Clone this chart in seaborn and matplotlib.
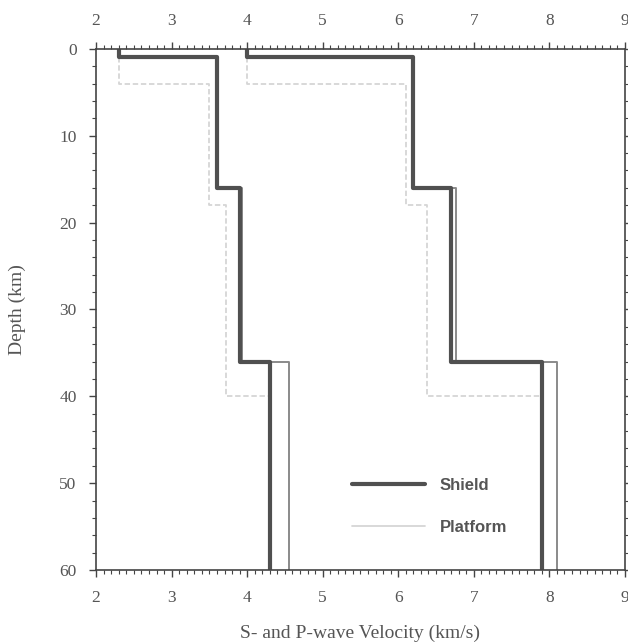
import numpy as np
import pandas as pd
import matplotlib
matplotlib.use("Agg")
import matplotlib.pyplot as plt
import seaborn as sns
from matplotlib.ticker import MultipleLocator
from matplotlib.lines import Line2D

# ---- data (layered velocity models) ----
shield_tops = [0, 1, 16, 36]
shield_bottoms = [1, 16, 36, 60]
shield_vs = [2.3, 3.6, 3.9, 4.3]
shield_vp = [4.0, 6.2, 6.7, 7.9]

shield2_vs = [2.3, 3.6, 3.93, 4.55]
shield2_vp = [4.0, 6.2, 6.76, 8.1]

platform_tops = [0, 4, 18, 40]
platform_bottoms = [4, 18, 40, 60]
platform_vs = [2.3, 3.5, 3.72, 4.3]
platform_vp = [4.0, 6.1, 6.38, 7.9]

x_ticks = [2, 3, 4, 5, 6, 7, 8, 9]
y_ticks = [0, 10, 20, 30, 40, 50, 60]


def profile(tops, bottoms, vel, model, wave):
    rows = []
    for t, b, v in zip(tops, bottoms, vel):
        rows.append((v, t, model, wave))
        rows.append((v, b, model, wave))
    return rows


rows = []
rows += profile(platform_tops, platform_bottoms, platform_vs, "Platform", "S")
rows += profile(platform_tops, platform_bottoms, platform_vp, "Platform", "P")
rows += profile(shield_tops, shield_bottoms, shield2_vs, "Shield2", "S")
rows += profile(shield_tops, shield_bottoms, shield2_vp, "Shield2", "P")
rows += profile(shield_tops, shield_bottoms, shield_vs, "Shield", "S")
rows += profile(shield_tops, shield_bottoms, shield_vp, "Shield", "P")
df = pd.DataFrame(rows, columns=["velocity", "depth", "model", "wave"])

sns.set_style("white")
plt.rcParams["font.family"] = ["Liberation Serif", "DejaVu Serif"]

fig = plt.figure(figsize=(6.28, 6.42), dpi=100)
ax = fig.add_axes([0.153, 0.112, 0.842, 0.812])

styles = {
    "Platform": dict(color="#d6d6d6", linewidth=1.3, linestyle=(0, (3, 1.5))),
    "Shield2": dict(color="#8a8a8a", linewidth=1.4),
    "Shield": dict(color="#505050", linewidth=3.0),
}
for m in ["Platform", "Shield2", "Shield"]:
    sub = df[df["model"] == m]
    sns.lineplot(data=sub, x="velocity", y="depth", units="wave", estimator=None,
                 sort=False, ax=ax, legend=False, **styles[m])

ax.set_xlim(2, 9)
ax.set_ylim(60, 0)
ax.set_xticks(x_ticks)
ax.set_yticks(y_ticks)
ax.xaxis.set_minor_locator(MultipleLocator(0.1))
ax.yaxis.set_minor_locator(MultipleLocator(2))

txt = "#555555"
for s in ax.spines.values():
    s.set_color("#444444")
    s.set_linewidth(1.2)
ax.tick_params(axis="both", which="both", direction="out", colors="#444444",
               labelcolor=txt, labelsize=12.5,
               top=True, bottom=True, left=True, right=True,
               labeltop=True, labelbottom=True, labelleft=True, labelright=False)
ax.tick_params(which="major", length=5, width=1, pad=9)
ax.tick_params(which="minor", length=3, width=0.8)

ax.set_xlabel("S- and P-wave Velocity (km/s)", fontsize=14, color=txt, labelpad=14)
ax.set_ylabel("Depth (km)", fontsize=14, color=txt, labelpad=24)

handles = [Line2D([], [], color=styles["Shield"]["color"], linewidth=3.0),
           Line2D([], [], color="#d6d6d6", linewidth=1.3)]
leg = ax.legend(handles, ["Shield", "Platform"], loc="upper left",
                bbox_to_anchor=(0.455, 0.205), frameon=False, handlelength=4.4,
                labelspacing=1.6, handletextpad=0.9,
                prop={"family": "Liberation Sans", "weight": "bold", "size": 12})
for t in leg.get_texts():
    t.set_color("#555555")

fig.savefig("out.png", dpi=100)
